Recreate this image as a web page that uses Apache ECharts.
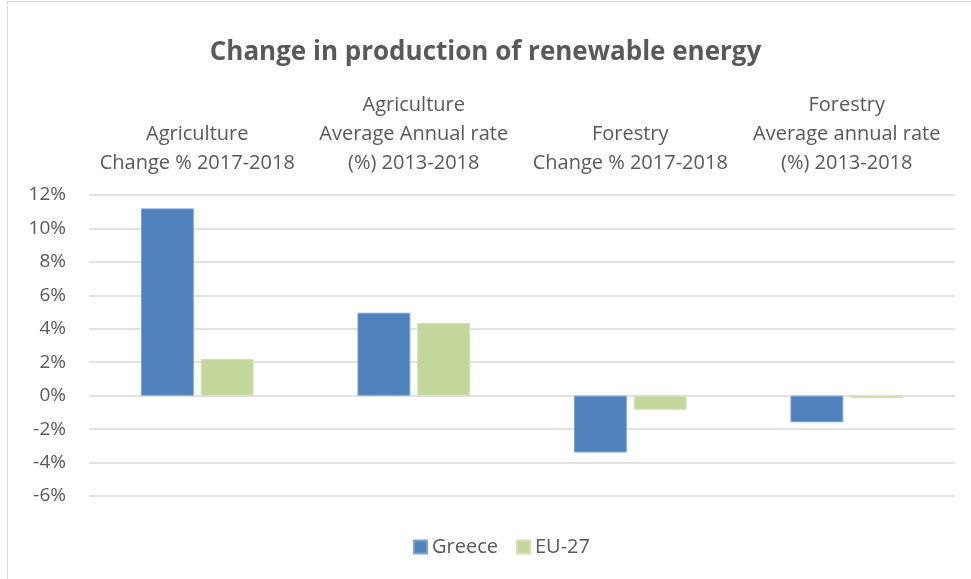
<!DOCTYPE html>
<html>
<head>
<meta charset="utf-8">
<script src="https://cdn.jsdelivr.net/npm/echarts@6/dist/echarts.min.js"></script>
<style>
    html, body { margin: 0; padding: 0; background: #fff; }
    #chart { position: absolute; left: 0; top: 0; width: 971px; height: 579px; }
    #frame { position: absolute; left: 7px; top: 1px; width: 975px; height: 590px; border: 1px solid #d9d9d9; pointer-events: none; }
</style>
</head>
<body>
<div id="chart"></div>
<div id="frame"></div>
<script>
// 类别
var categories = [
    'Agriculture\nChange % 2017-2018',
    'Agriculture\nAverage Annual rate\n(%) 2013-2018',
    'Forestry\nChange % 2017-2018',
    'Forestry\nAverage annual rate\n(%) 2013-2018'
];
// 数据 (%)
var greece = [11.2, 4.96, -3.4, -1.59];
var eu27 = [2.19, 4.34, -0.84, -0.14];
var yTicks = { min: -6, max: 12, step: 2 };

var textColor = '#595959';
var fontName = '"Open Sans", "Liberation Sans", sans-serif';

var dom = document.getElementById('chart');
var myChart = echarts.init(dom);
myChart.setOption({
    animation: false,
    title: {
        text: 'Change in production of renewable energy',
        left: 'center',
        top: 35,
        textStyle: { color: textColor, fontSize: 26, fontWeight: 'bold', fontFamily: fontName }
    },
    legend: {
        bottom: 17,
        left: 408,
        itemWidth: 13,
        itemHeight: 13,
        itemGap: 18,
        icon: 'rect',
        textStyle: { color: textColor, fontSize: 20, fontFamily: fontName }
    },
    grid: { left: 89, right: 16, top: 195, bottom: 83 },
    xAxis: {
        type: 'category',
        position: 'top',
        data: categories,
        axisLine: { show: false },
        axisTick: { show: false },
        axisLabel: {
            margin: 17,
            interval: 0,
            color: textColor,
            fontSize: 20,
            lineHeight: 29,
            fontFamily: fontName
        }
    },
    yAxis: {
        type: 'value',
        min: yTicks.min,
        max: yTicks.max,
        interval: yTicks.step,
        axisLine: { show: false },
        axisTick: { show: false },
        axisLabel: {
            formatter: '{value}%',
            margin: 23,
            color: textColor,
            fontSize: 19,
            fontFamily: fontName
        },
        splitLine: { lineStyle: { color: '#d9d9d9', width: 1.5 } }
    },
    series: [
        {
            name: 'Greece',
            type: 'bar',
            data: greece,
            barGap: '13%',
            barCategoryGap: '48%',
            itemStyle: { color: '#4f81bd', borderColor: '#7fa2d0', borderWidth: 1 }
        },
        {
            name: 'EU-27',
            type: 'bar',
            data: eu27,
            itemStyle: { color: '#c3d69b', borderColor: '#d3e2b5', borderWidth: 1 }
        }
    ]
});
</script>
</body>
</html>
